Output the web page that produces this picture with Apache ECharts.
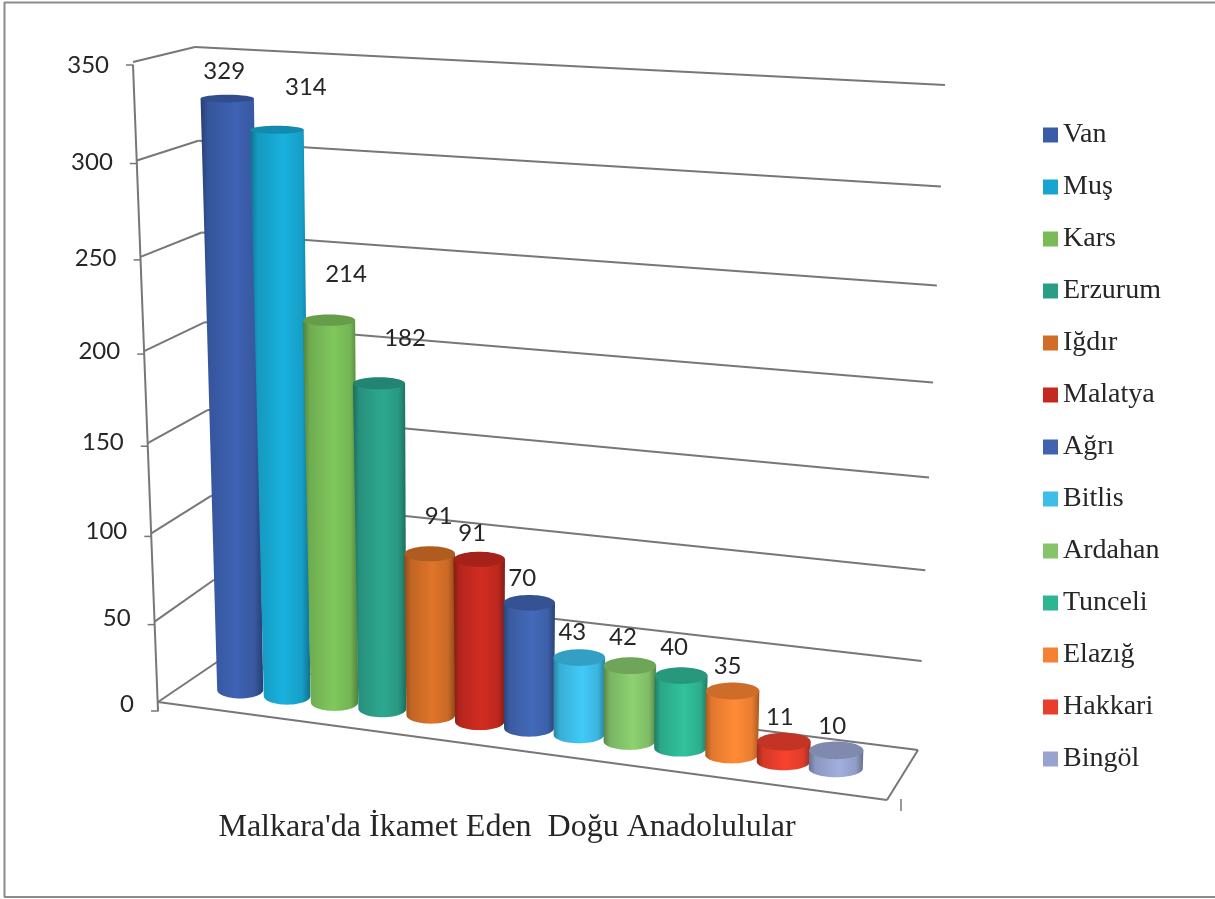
<!DOCTYPE html>
<html><head><meta charset="utf-8">
<style>html,body{margin:0;padding:0;background:#fff}#c{width:1215px;height:899px}</style>
<script src="https://cdn.jsdelivr.net/npm/echarts@6/dist/echarts.min.js"></script>
</head><body><div id="c"></div>
<script>
const provinces = ['Van','Muş','Kars','Erzurum','Iğdır','Malatya','Ağrı','Bitlis','Ardahan','Tunceli','Elazığ','Hakkari','Bingöl'];
const residents = [329,314,214,182,91,91,70,43,42,40,35,11,10];
const barColors = ['#3a5ca8','#17a5cf','#78bb57','#2a9d87','#d16d27','#c4291f','#3f63ae','#3dbde8','#84c46a','#2eb592','#f58232','#e83e2b','#97a4cf'];
const valueTicks = [0,50,100,150,200,250,300,350];
const chartTitle = "Malkara'da İkamet Eden  Doğu Anadolulular";
const labelNudge = [[-3,-27],[29,-43],[17,-46],[26,-45],[9,-37],[-7,-26],[-7,-25],[-7,-25],[-7,-28],[-7,-28],[-5,-25],[-4,-24],[-4,-24]];

const GRID = {left:200,top:100,width:650,height:600};
const lerp=(a,b,k)=>a+(b-a)*k;
const lerp2=(p,q,k)=>[lerp(p[0],q[0],k),lerp(p[1],q[1],k)];
// vertical perspective: spacing grows with height
const persp=t=>t/(1+0.08*(1-t));
const perspBar=t=>t/(1+0.055*(1-t));
// box corners (floor/ceiling, front/back, left/right)
const W={fl0:[158,702],fr0:[887,800],bl0:[217,662],br0:[918,750],bl1:[195,47],br1:[945,85],fl1:[133,65]};
const M={l0:[187.5,683],r0:[902.5,777.5],l1:[171,56],r1:[922,94]};
function gridPos(c){return {gx:(c[0]-GRID.left)/GRID.width,t:(GRID.top+GRID.height-c[1])/GRID.height};}
function barU(gx){const g=(gx-0.5/13)/(12/13);return 0.0737+0.833*(0.94*g+0.06*g*g);}
function barPoint(U,t){const v=perspBar(t);return lerp2(lerp2(M.l0,M.r0,U),lerp2(M.l1,M.r1,U),v);}
function shade(hex,f){
  const n=parseInt(hex.slice(1),16);
  const c=[n>>16&255,n>>8&255,n&255].map(x=>Math.min(255,Math.round(x*f)));
  return 'rgb('+c.join(',')+')';
}

function renderBar(params,api){
  const i=api.value(0),val=api.value(1);
  const top=gridPos(api.coord([i,val])),U=barU(top.gx),t=top.t;
  const B=barPoint(U,0),T=barPoint(U,t);
  const g=(top.gx-0.5/13)/(12/13);
  const r0=23+4*g, rT=r0*(1+0.17*perspBar(t));
  const ryB=8.5, ryT=9-5.5*t;
  const col=barColors[i];
  const pts=[[T[0]-rT,T[1]],[T[0]+rT,T[1]]];
  for(let k=0;k<=28;k++){const a=Math.PI*k/28;pts.push([B[0]+r0*Math.cos(a),B[1]+ryB*Math.sin(a)]);}
  const grad=new echarts.graphic.LinearGradient(0,0,1,0,[
    {offset:0,color:shade(col,0.68)},{offset:0.12,color:shade(col,0.92)},{offset:0.55,color:shade(col,1.07)},
    {offset:0.86,color:shade(col,0.96)},{offset:1,color:shade(col,0.68)}]);
  const nudge=labelNudge[i];
  return {type:'group',children:[
    {type:'polygon',shape:{points:pts},style:{fill:grad}},
    {type:'ellipse',shape:{cx:T[0],cy:T[1],rx:rT,ry:ryT},style:{fill:shade(col,0.84)}},
    {type:'text',z2:100,style:{text:String(val),x:T[0]+nudge[0],y:T[1]+nudge[1],fill:'#262626',
      fontFamily:'Lato',fontSize:24,align:'center',verticalAlign:'middle'}}
  ]};
}
const stroke={stroke:'#777777',lineWidth:2};
function seg(a,b,st){return {type:'line',shape:{x1:a[0],y1:a[1],x2:b[0],y2:b[1]},style:st||stroke};}
function renderWall(params,api){
  const tick=api.value(1),t=gridPos(api.coord([0,tick])).t,v=persp(t);
  const back0=lerp2(W.bl0,W.bl1,v),backR=lerp2(W.br0,W.br1,v);
  const axisP=lerp2([158,711],[133,65],v);
  const front=tick===0?W.fl0:[axisP[0],axisP[1]-3];
  const kids=[seg(front,back0),seg(back0,backR),seg([axisP[0]-7,axisP[1]],[axisP[0]+0.5,axisP[1]],{stroke:'#777777',lineWidth:1.5}),
    {type:'text',style:{text:String(tick),x:axisP[0]-24,y:axisP[1]-7*(1-t),fill:'#262626',fontFamily:'Lato',fontSize:24,align:'right',verticalAlign:'middle'}}];
  if(tick===0){
    kids.push(seg(W.fl0,W.fr0),seg(W.fr0,W.br0),seg([158,711],[133,65]),seg([901,799],[901,811],{stroke:'#777777',lineWidth:1.5}));
  }
  return {type:'group',children:kids};
}
const series=[{type:'custom',name:'walls',silent:true,z:1,clip:false,renderItem:renderWall,
  data:valueTicks.map(v=>[0,v]),encode:{x:0,y:1}}];
provinces.forEach((p,i)=>series.push({type:'custom',name:p,silent:true,z:2,clip:false,renderItem:renderBar,
  itemStyle:{color:barColors[i]},data:[[i,residents[i]]],encode:{x:0,y:1}}));
const chart=echarts.init(document.getElementById('c'),null,{renderer:'canvas'});
chart.setOption({
  animation:false,backgroundColor:'#fff',
  grid:{left:GRID.left,top:GRID.top,width:GRID.width,height:GRID.height,show:false},
  xAxis:{type:'category',data:provinces,show:false},
  yAxis:{type:'value',min:0,max:350,interval:50,show:false},
  title:{text:chartTitle,left:502,top:807,textAlign:'center',textStyle:{fontFamily:'Liberation Serif',fontSize:32,fontWeight:'normal',color:'#262626'}},
  legend:{data:provinces,orient:'vertical',left:1038,top:116,icon:'rect',itemWidth:15,itemHeight:15,itemGap:24,
    textStyle:{fontFamily:'Liberation Serif',fontSize:28,color:'#262626'},selectedMode:false},
  graphic:[
    {type:'line',shape:{x1:4,y1:2.5,x2:1215,y2:2.5},style:{stroke:'#8c8c8c',lineWidth:2}},
    {type:'line',shape:{x1:4.5,y1:2,x2:4.5,y2:897},style:{stroke:'#8c8c8c',lineWidth:2}},
    {type:'line',shape:{x1:4,y1:897,x2:1215,y2:897},style:{stroke:'#8c8c8c',lineWidth:2}}
  ],
  series
});
</script></body></html>
